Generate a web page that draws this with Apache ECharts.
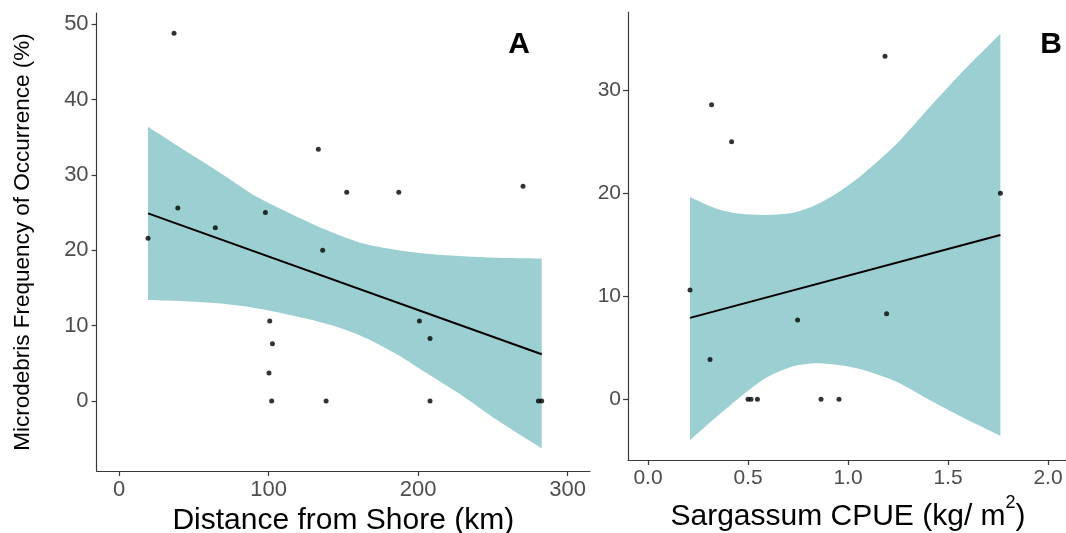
<!DOCTYPE html>
<html>
<head>
<meta charset="utf-8">
<script src="https://cdn.jsdelivr.net/npm/echarts@6/dist/echarts.min.js"></script>
<style>
html,body{margin:0;padding:0;background:#fff;}
#chart{width:1066px;height:533px;}
</style>
</head>
<body>
<div id="chart"></div>
<script>
// ---------- Panel A: Distance from shore ----------
const distA = [19.4, 36.8, 39.3, 64.4, 97.9, 133.3, 136.2, 100.8, 102.6, 100.3, 102.1, 138.5, 152.3, 187.1, 270.2, 200.9, 208.0, 208.0, 280.5, 282.7];
const freqA = [21.6, 48.8, 25.6, 23.0, 25.0, 33.4, 20.0, 10.6, 7.6, 3.7, 0, 0, 27.7, 27.7, 28.5, 10.6, 8.3, 0, 0, 0];
const fitAX = [19.4, 282.7];
const fitAY = [24.9, 6.2];
const bandAX = [19.4, 47.5, 69.8, 92.1, 114.4, 141.1, 163.4, 185.8, 208.0, 230.3, 252.6, 282.7];
const bandAHi = [36.4, 32.8, 30.0, 27.1, 24.9, 22.5, 20.9, 20.05, 19.5, 19.2, 19.0, 18.9];
const bandALo = [13.4, 13.2, 12.9, 12.3, 11.4, 10.1, 8.5, 6.2, 3.4, 0.6, -2.5, -6.3];
const xTicksA = [0, 100, 200, 300];
const yTicksA = [0, 10, 20, 30, 40, 50];

// ---------- Panel B: Sargassum CPUE ----------
const cpueB = [0.318, 0.418, 1.185, 1.762, 0.21, 0.31, 0.748, 0.50, 0.515, 0.547, 0.865, 0.955, 1.193];
const freqB = [28.6, 25.0, 33.3, 20.0, 10.6, 3.85, 7.7, 0, 0, 0, 0, 0, 8.3];
const fitBX = [0.21, 1.762];
const fitBY = [7.9, 15.95];
const bandBX = [0.21, 0.343, 0.46, 0.593, 0.727, 0.843, 0.96, 1.077, 1.243, 1.41, 1.577, 1.762];
const bandBHi = [19.64, 18.5, 18.0, 17.9, 18.1, 18.9, 20.2, 21.9, 24.8, 28.4, 31.9, 35.5];
const bandBLo = [-3.98, -1.7, 0.2, 2.1, 3.2, 3.5, 3.3, 2.85, 1.7, -0.1, -1.8, -3.56];
const xTicksB = [0.0, 0.5, 1.0, 1.5, 2.0];
const yTicksB = [0, 10, 20, 30];

const FONT = "'Liberation Sans', Arial, sans-serif";
const AXIS_COL = '#3a3a3a';
const LABEL_COL = '#4d4d4d';
const BAND_COL = '#9bcfd1';

// Confidence band: closed polygon through the read edge points, smoothed by
// zrender; each corner is doubled so the vertical ends stay sharp.
function bandRenderer(xs, lo, hi) {
  return function (params, api) {
    if (params.dataIndex !== 0) return null;
    const n = xs.length;
    const pts = [];
    for (let i = 0; i < n; i++) {
      const p = api.coord([xs[i], hi[i]]);
      pts.push(p);
      if (i === 0 || i === n - 1) pts.push(p.slice());
    }
    for (let i = n - 1; i >= 0; i--) {
      const p = api.coord([xs[i], lo[i]]);
      pts.push(p);
      if (i === 0 || i === n - 1) pts.push(p.slice());
    }
    return { type: 'polygon', shape: { points: pts, smooth: 0.3 }, style: { fill: BAND_COL } };
  };
}

function valueAxis(extra) {
  return Object.assign({
    type: 'value',
    splitLine: { show: false },
    axisLine: { show: true, onZero: false, lineStyle: { color: AXIS_COL, width: 1.2 } },
    nameTextStyle: { color: '#000', fontFamily: FONT }
  }, extra);
}

function ticks(vals) {
  return { show: true, length: 5, customValues: vals, lineStyle: { color: AXIS_COL, width: 1.2 } };
}

function labels(vals, size, margin, fmt) {
  return { customValues: vals, fontSize: size, color: LABEL_COL, fontFamily: FONT, margin: margin,
           formatter: fmt || (v => String(v)) };
}

const chart = echarts.init(document.getElementById('chart'), null, { renderer: 'canvas' });
chart.setOption({
  animation: false,
  backgroundColor: '#fff',
  grid: [
    { left: 96.6, top: 13, width: 493.4, height: 458, outerBoundsMode: 'none', containLabel: false },
    { left: 628, top: 12, width: 440, height: 448, outerBoundsMode: 'none', containLabel: false }
  ],
  xAxis: [
    valueAxis({
      gridIndex: 0, min: -15, max: 315,
      axisTick: ticks(xTicksA),
      axisLabel: labels(xTicksA, 22, 8),
      name: 'Distance from Shore (km)', nameLocation: 'middle', nameGap: 34,
      nameTextStyle: { color: '#000', fontFamily: FONT, fontSize: 30 }
    }),
    valueAxis({
      gridIndex: 1, min: -0.1, max: 2.1,
      axisTick: ticks(xTicksB),
      axisLabel: labels(xTicksB, 21, 8, v => v.toFixed(1)),
      name: '{m|Sargassum CPUE (kg/ m}{sup|2}{m|)}', nameLocation: 'middle', nameGap: 32,
      nameTextStyle: { color: '#000', fontFamily: FONT, fontSize: 30,
        rich: {
          m: { fontSize: 30, lineHeight: 30, fontFamily: FONT, color: '#000', verticalAlign: 'bottom' },
          sup: { fontSize: 18, lineHeight: 38, fontFamily: FONT, color: '#000', verticalAlign: 'top' }
        } }
    })
  ],
  yAxis: [
    valueAxis({
      gridIndex: 0, min: -9.3, max: 51.5,
      axisTick: ticks(yTicksA),
      axisLabel: labels(yTicksA, 22, 8),
      name: 'Microdebris Frequency of Occurrence (%)', nameLocation: 'middle', nameGap: 62,
      nameTextStyle: { color: '#000', fontFamily: FONT, fontSize: 22.5 }
    }),
    valueAxis({
      gridIndex: 1, min: -5.9, max: 37.6,
      axisTick: ticks(yTicksB),
      axisLabel: labels(yTicksB, 21, 7)
    })
  ],
  graphic: [
    { type: 'text', x: 519, y: 45, style: { text: 'A', align: 'center', verticalAlign: 'middle', fontSize: 30, fontWeight: 'bold', fontFamily: FONT, fill: '#000' } },
    { type: 'text', x: 1051, y: 45, style: { text: 'B', align: 'center', verticalAlign: 'middle', fontSize: 30, fontWeight: 'bold', fontFamily: FONT, fill: '#000' } }
  ],
  series: [
    { type: 'custom', xAxisIndex: 0, yAxisIndex: 0, silent: true, z: 1,
      renderItem: bandRenderer(bandAX, bandALo, bandAHi),
      data: bandAX.map((x, i) => [x, bandALo[i], bandAHi[i]]), encode: { x: 0, y: [1, 2] } },
    { type: 'line', xAxisIndex: 0, yAxisIndex: 0, z: 3, symbol: 'none',
      lineStyle: { color: '#000', width: 2 },
      data: fitAX.map((x, i) => [x, fitAY[i]]) },
    { type: 'scatter', xAxisIndex: 0, yAxisIndex: 0, z: 4, symbolSize: 5,
      itemStyle: { color: '#000' },
      data: distA.map((x, i) => [x, freqA[i]]) },

    { type: 'custom', xAxisIndex: 1, yAxisIndex: 1, silent: true, z: 1,
      renderItem: bandRenderer(bandBX, bandBLo, bandBHi),
      data: bandBX.map((x, i) => [x, bandBLo[i], bandBHi[i]]), encode: { x: 0, y: [1, 2] } },
    { type: 'line', xAxisIndex: 1, yAxisIndex: 1, z: 3, symbol: 'none',
      lineStyle: { color: '#000', width: 2 },
      data: fitBX.map((x, i) => [x, fitBY[i]]) },
    { type: 'scatter', xAxisIndex: 1, yAxisIndex: 1, z: 4, symbolSize: 5,
      itemStyle: { color: '#000' },
      data: cpueB.map((x, i) => [x, freqB[i]]) }
  ]
});
</script>
</body>
</html>
